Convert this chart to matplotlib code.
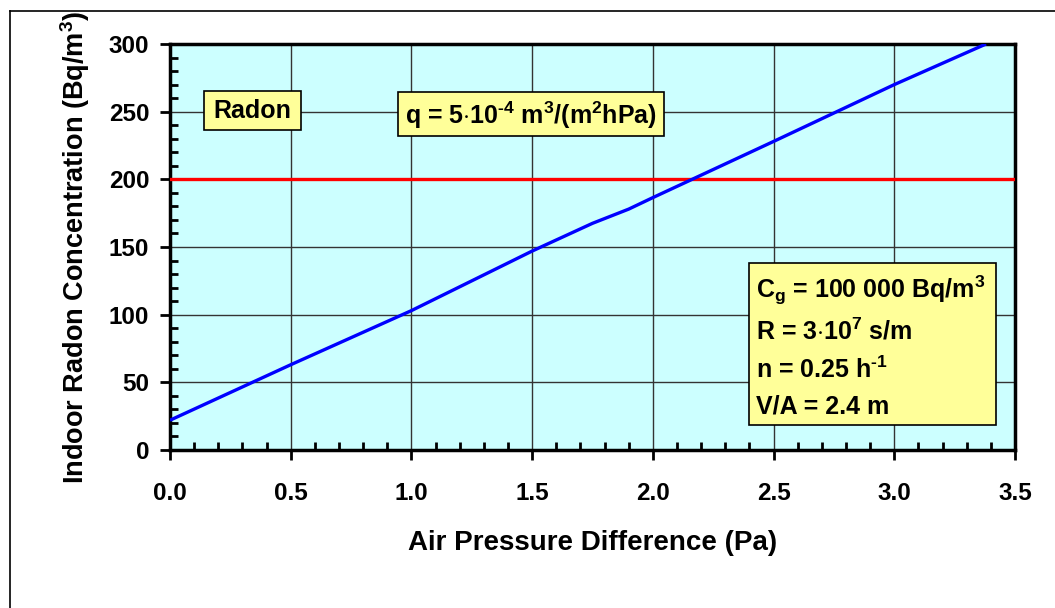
import numpy as np
import matplotlib.pyplot as plt
from matplotlib.patches import Rectangle
from matplotlib.lines import Line2D
from matplotlib.ticker import MultipleLocator, FormatStrFormatter

plt.rcParams['font.family'] = ['Liberation Sans', 'DejaVu Sans']
plt.rcParams['font.weight'] = 'bold'
plt.rcParams['mathtext.fontset'] = 'custom'
plt.rcParams['mathtext.rm'] = 'Liberation Sans:bold'
plt.rcParams['mathtext.it'] = 'Liberation Sans:bold'
plt.rcParams['mathtext.bf'] = 'Liberation Sans:bold'
plt.rcParams['mathtext.default'] = 'rm'

# data
dp = [0.0, 0.5, 1.0, 1.5, 1.75, 1.9, 2.0, 2.5, 3.0, 3.38]
conc = [22, 63, 103, 147, 167.5, 178, 186.5, 228, 270, 300]
limit = 200
xticks = [0.0, 0.5, 1.0, 1.5, 2.0, 2.5, 3.0, 3.5]
yticks = [0, 50, 100, 150, 200, 250, 300]

W, H = 1055, 608
fig = plt.figure(figsize=(W / 100, H / 100), dpi=100)

def fx(x):
    return x / W

def fy(y):
    return 1 - y / H

ax = fig.add_axes([fx(170), fy(450), fx(1015) - fx(170), fy(44) - fy(450)])
ax.set_facecolor('#CCFFFF')
ax.set_xlim(0, 3.5)
ax.set_ylim(0, 300)

ax.plot(dp, conc, color='#0000FF', lw=2.4, zorder=4, solid_capstyle='butt')
ax.axhline(limit, color='#FF0000', lw=2.4, zorder=3)

ax.set_xticks(xticks)
ax.set_yticks(yticks)
ax.xaxis.set_major_formatter(FormatStrFormatter('%.1f'))
ax.xaxis.set_minor_locator(MultipleLocator(0.1))
ax.yaxis.set_minor_locator(MultipleLocator(10))
ax.grid(True, which='major', color='#333333', lw=1.0)
ax.tick_params(which='major', direction='out', length=7, width=2, labelsize=17.5)
ax.tick_params(axis='x', which='major', pad=16)
ax.tick_params(axis='y', which='major', pad=8)
ax.tick_params(which='minor', direction='in', length=6, width=2)
for s in ax.spines.values():
    s.set_linewidth(2.5)

ax.set_xlabel('Air Pressure Difference (Pa)', fontsize=20, fontweight='bold', labelpad=18)
ax.set_ylabel('Indoor Radon Concentration (Bq/m$^3$)', fontsize=19.5, fontweight='bold', labelpad=12)

def box(x0, y0, x1, y1):
    r = Rectangle((fx(x0), fy(y1)), fx(x1) - fx(x0), fy(y0) - fy(y1),
                  transform=fig.transFigure, facecolor='#FFFF99',
                  edgecolor='black', lw=1.2, zorder=10)
    fig.add_artist(r)

box(204, 91, 301, 130)
fig.text(fx(252.5), fy(111), 'Radon', ha='center', va='center', fontsize=18, zorder=11)

box(398, 92, 664, 136)
fig.text(fx(531), fy(115), 'q = 5$\\cdot$10$^{\u2010 4}$ m$^3$/(m$^2$hPa)', ha='center', va='center',
         fontsize=18, zorder=11)

box(749, 263, 996, 425)
lines = ['C$_g$ = 100 000 Bq/m$^3$', 'R = 3$\\cdot$10$^7$ s/m', 'n = 0.25 h$^{\u20101}$', 'V/A = 2.4 m']
ys = [290, 331, 370, 406]
for t, y in zip(lines, ys):
    fig.text(fx(756), fy(y), t, ha='left', va='center', fontsize=18, zorder=11)

# outer frame
fig.add_artist(Line2D([fx(10), fx(10)], [0, fy(11)], color='black', lw=1.2))
fig.add_artist(Line2D([fx(10), 1], [fy(11), fy(11)], color='black', lw=1.2))

fig.savefig('out.png', dpi=100)
